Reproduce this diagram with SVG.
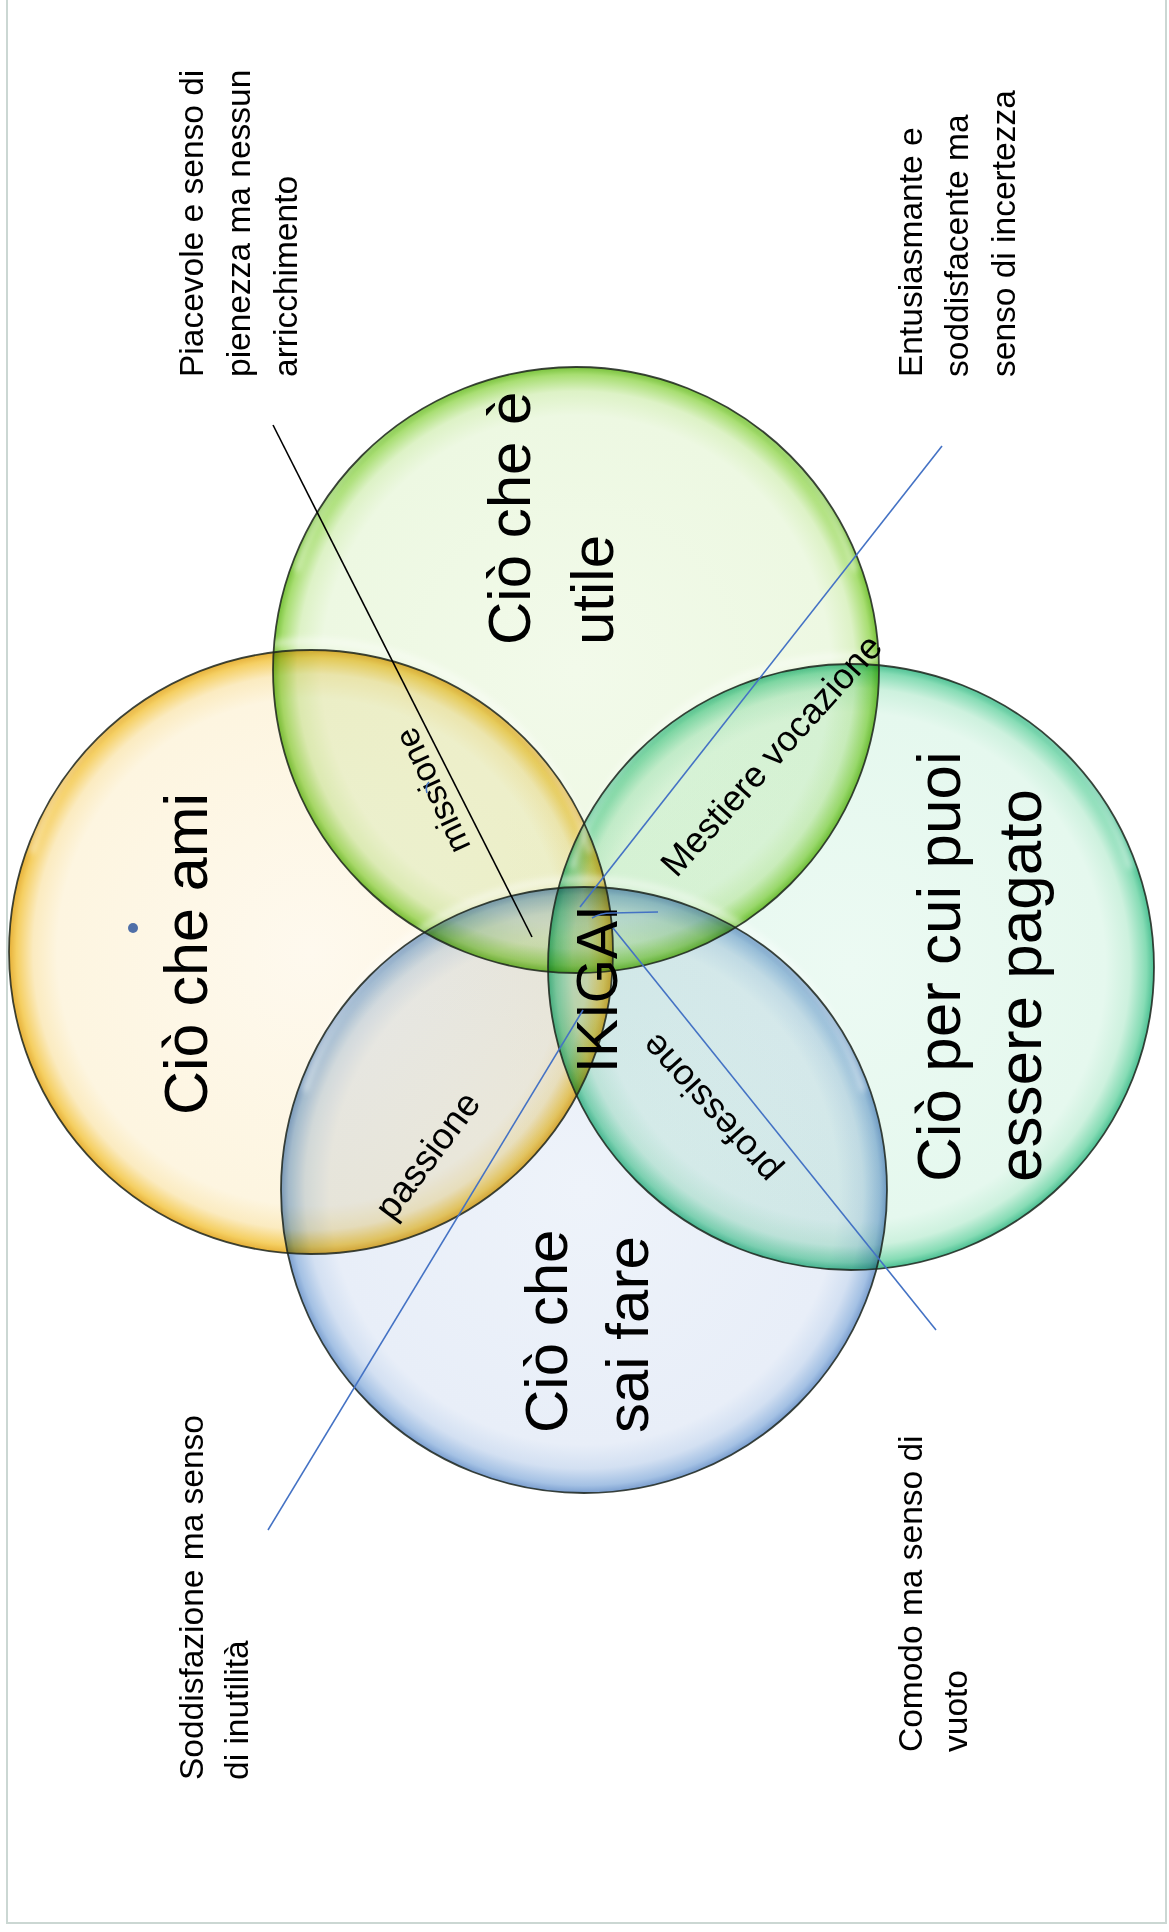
<svg xmlns="http://www.w3.org/2000/svg" width="1169" height="1932" viewBox="0 0 1169 1932">
<defs>
<style>
 .side{font-family:"Liberation Sans",Arial,sans-serif;font-size:33.5px;fill:#000}
 .big{font-family:"Liberation Sans",Arial,sans-serif;font-size:61px;fill:#000}
 .mid{font-family:"Liberation Sans",Arial,sans-serif;font-size:36px;fill:#000}
 .fillc{mix-blend-mode:multiply}
 .ring{fill:none;stroke:#1c241c;stroke-width:1.8;stroke-opacity:0.85}
 .hl{fill:none;stroke:#fff;stroke-width:7;stroke-opacity:0.45;stroke-linecap:round}
 .blue{stroke:#4472C4;stroke-width:1.6;fill:none}
 .black{stroke:#000;stroke-width:1.6;fill:none}
</style>
<filter id="blur" x="-10%" y="-10%" width="120%" height="120%"><feGaussianBlur stdDeviation="3"/></filter>
<radialGradient id="gY" cx="0.5" cy="0.5" r="0.5">
 <stop offset="0" stop-color="#FEF9EE"/><stop offset="0.84" stop-color="#FDF5E0"/><stop offset="0.92" stop-color="#FBEBC0"/><stop offset="0.975" stop-color="#F5CF62"/><stop offset="1" stop-color="#E6B038"/>
</radialGradient>
<radialGradient id="gG" cx="0.5" cy="0.5" r="0.5">
 <stop offset="0" stop-color="#F2FAEA"/><stop offset="0.84" stop-color="#EDF8E2"/><stop offset="0.92" stop-color="#DDF2C6"/><stop offset="0.975" stop-color="#A8DE72"/><stop offset="1" stop-color="#78C23A"/>
</radialGradient>
<radialGradient id="gT" cx="0.5" cy="0.5" r="0.5">
 <stop offset="0" stop-color="#ECFAF3"/><stop offset="0.84" stop-color="#E5F8EE"/><stop offset="0.92" stop-color="#CDF1DE"/><stop offset="0.975" stop-color="#86DCB5"/><stop offset="1" stop-color="#4CC093"/>
</radialGradient>
<radialGradient id="gB" cx="0.5" cy="0.5" r="0.5">
 <stop offset="0" stop-color="#EEF3FA"/><stop offset="0.84" stop-color="#E8EEF8"/><stop offset="0.92" stop-color="#D3E0F2"/><stop offset="0.975" stop-color="#A4C1E4"/><stop offset="1" stop-color="#7A9ECF"/>
</radialGradient>
</defs>

<rect x="0" y="0" width="1169" height="1932" fill="#fff"/>
<rect x="7" y="-2" width="1159" height="1925" fill="none" stroke="#CBD7D3" stroke-width="2"/>

<g id="circles-fill">
 <circle class="fillc" cx="311" cy="952" r="302" fill="url(#gY)"/>
 <circle class="fillc" cx="576" cy="670" r="303" fill="url(#gG)"/>
 <circle class="fillc" cx="851" cy="967" r="303" fill="url(#gT)"/>
 <circle class="fillc" cx="584" cy="1190" r="303" fill="url(#gB)"/>
</g>

<g id="highlights" filter="url(#blur)">
 <path class="hl" d="M32.5,850.5 A290,290 0 0 1 589.5,850.5"/>
 <path class="hl" d="M297.5,568.5 A290,290 0 0 1 854.5,568.5"/>
 <path class="hl" d="M572.5,865.5 A290,290 0 0 1 1129.5,865.5"/>
 <path class="hl" d="M305.5,1088.5 A290,290 0 0 1 862.5,1088.5"/>
</g>

<g id="node-ami">
 <circle class="ring" cx="311" cy="952" r="302"/>
 <text class="big" transform="translate(207,1115) rotate(-90)">Ciò che ami</text>
 <circle cx="133" cy="928" r="5" fill="#4F6FA8"/>
</g>
<g id="node-utile">
 <circle class="ring" cx="576" cy="670" r="303"/>
 <text class="big" style="font-size:60px" transform="translate(530,645) rotate(-90)"><tspan x="0" y="0">Ciò che è</tspan><tspan x="0" y="83">utile</tspan></text>
</g>
<g id="node-pagato">
 <circle class="ring" cx="851" cy="967" r="303"/>
 <text class="big" style="font-size:62px" transform="translate(960,1182) rotate(-90)"><tspan x="0" y="0">Ciò per cui puoi</tspan><tspan x="0" y="81">essere pagato</tspan></text>
</g>
<g id="node-sai-fare">
 <circle class="ring" cx="584" cy="1190" r="303"/>
 <text class="big" style="font-size:60px" transform="translate(567,1433) rotate(-90)"><tspan x="0" y="0">Ciò che</tspan><tspan x="0" y="81">sai fare</tspan></text>
</g>

<g id="node-ikigai">
 <text class="big" style="font-size:57px" text-anchor="middle" transform="translate(617,989) rotate(-90)">IKIGAI</text>
</g>
<g id="label-missione">
 <text class="mid" style="font-size:34px" text-anchor="middle" dy="0.35em" transform="translate(432,791) rotate(-115)">missione</text>
</g>
<g id="label-vocazione">
 <text class="mid" text-anchor="middle" dy="0.35em" transform="translate(771,755) rotate(-48)">Mestiere vocazione</text>
</g>
<g id="label-passione">
 <text class="mid" style="font-size:37px" text-anchor="middle" dy="0.35em" transform="translate(427,1155) rotate(-53)">passione</text>
</g>
<g id="label-professione">
 <text class="mid" text-anchor="middle" dy="0.35em" transform="translate(710,1109) rotate(-132)">professione</text>
</g>

<g id="note-piacevole">
 <text class="side" transform="translate(203,377) rotate(-90)"><tspan x="0" y="0">Piacevole e senso di</tspan><tspan x="0" y="47">pienezza ma nessun</tspan><tspan x="0" y="94">arricchimento</tspan></text>
</g>
<g id="note-entusiasmante">
 <text class="side" transform="translate(922,377) rotate(-90)"><tspan x="0" y="0">Entusiasmante e</tspan><tspan x="0" y="46">soddisfacente ma</tspan><tspan x="0" y="93">senso di incertezza</tspan></text>
</g>
<g id="note-soddisfazione">
 <text class="side" transform="translate(203,1780) rotate(-90)"><tspan x="0" y="0">Soddisfazione ma senso</tspan><tspan x="0" y="45">di inutilità</tspan></text>
</g>
<g id="note-comodo">
 <text class="side" transform="translate(922,1752) rotate(-90)"><tspan x="0" y="0">Comodo ma senso di</tspan><tspan x="0" y="45">vuoto</tspan></text>
</g>

<g id="connectors">
 <line class="black" x1="273" y1="425" x2="532" y2="937"/>
 <line class="blue" x1="942" y1="446" x2="580" y2="907"/>
 <path class="blue" d="M592,918 Q600,913 612,913 L658,912"/>
 <line class="blue" x1="613" y1="928" x2="936" y2="1330"/>
 <line class="blue" x1="583" y1="1010" x2="268" y2="1530"/>
 <path class="blue" d="M429,782 Q425,786 427,793"/>
</g>
</svg>
